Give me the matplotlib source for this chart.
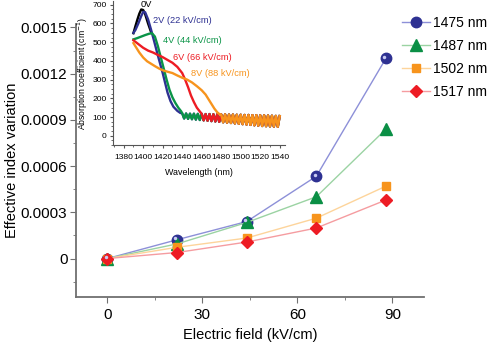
import numpy as np
import matplotlib
matplotlib.use("Agg")
import matplotlib.pyplot as plt
from matplotlib.ticker import MultipleLocator, FuncFormatter
from matplotlib.transforms import ScaledTranslation

plt.rcParams['font.family'] = ['Liberation Sans', 'DejaVu Sans']

# -------------------------------
# main plot data (effective index vs field)
# -------------------------------
field = [0, 22, 44, 66, 88]
labels = ['1475 nm', '1487 nm', '1502 nm', '1517 nm']
dn_1475 = [0, 0.000122, 0.00024, 0.000534, 0.00130]
dn_1487 = [0, 0.000095, 0.000234, 0.000401, 0.000840]
dn_1502 = [0, 0.000073, 0.000133, 0.000262, 0.000470]
dn_1517 = [0, 0.000039, 0.000107, 0.000198, 0.000380]

# -------------------------------
# inset data (absorption spectra)
# -------------------------------
wl_0v = [1390, 1392, 1394, 1396, 1398, 1400, 1402, 1405, 1408]
ab_0v = [548, 585, 620, 652, 675, 672, 650, 600, 555]

wl_2v = [1390, 1392, 1395, 1398, 1400, 1402, 1405, 1408, 1411, 1415, 1420,
         1425, 1428, 1431, 1435, 1438]
ab_2v = [550, 565, 600, 640, 662, 660, 622, 568, 510, 430, 335,
         230, 185, 155, 133, 122]

wl_4v = [1390, 1394, 1398, 1402, 1406, 1409, 1412, 1415, 1418, 1421, 1424,
         1427, 1430, 1433, 1436, 1439]
ab_4v = [515, 522, 530, 538, 545, 548, 530, 480, 420, 360, 300,
         245, 205, 175, 150, 130]

wl_6v = [1390, 1395, 1400, 1405, 1410, 1415, 1420, 1425, 1430, 1435, 1440,
         1443, 1446, 1449, 1452, 1455, 1458]
ab_6v = [510, 490, 470, 455, 445, 432, 420, 405, 390, 368, 335,
         300, 260, 215, 180, 150, 130]

wl_8v = [1390, 1393, 1396, 1400, 1404, 1408, 1412, 1416, 1420, 1425, 1430,
         1435, 1440, 1445, 1450, 1455, 1460, 1464, 1467, 1470, 1473, 1476, 1479]
ab_8v = [495, 470, 445, 418, 398, 385, 372, 360, 350, 342, 335,
         322, 310, 300, 285, 265, 243, 220, 195, 170, 145, 125, 112]

# shared fringe tail
tail_wl = list(range(1440, 1541, 2))
tail_ab = [120, 92, 119, 90, 118, 88, 118, 86, 117, 84, 117, 82, 116, 80,
           116, 78, 115, 76, 115, 74, 114, 72, 114, 70, 113, 68, 113, 66,
           112, 64, 112, 62, 111, 60, 111, 58, 110, 56, 110, 54, 109, 52,
           109, 51, 108, 50, 107, 49, 106, 48, 105]

fig = plt.figure(figsize=(4.89, 3.43), dpi=100)
ax = fig.add_axes([0.155, 0.134, 0.712, 0.795])

spine_col = '#707070'
series = [
    (dn_1475, 'o', '#2e3192', '#8d90d8', 7.5),
    (dn_1487, '^', '#0a8f45', '#9bd3a3', 8),
    (dn_1502, 's', '#f7941d', '#fdd49b', 6),
    (dn_1517, 'D', '#ed1c24', '#f59ca0', 6.5),
]
for (vals, mk, mc, lc, ms), lab in zip(series, labels):
    ax.plot(field, vals, color=lc, lw=1.0, marker=mk, ms=ms,
            mfc=mc, mec=mc, label=lab, zorder=3)

# little highlight on the blue spheres
hl = ScaledTranslation(-1.2 / 72, 1.2 / 72, fig.dpi_scale_trans)
ax.plot(field, dn_1475, ls='none', marker='o', ms=2.5, mfc='#c9cbf2',
        mec='none', transform=ax.transData + hl, zorder=4)

ax.set_xlim(-10, 100)
ax.set_ylim(-0.00025, 0.00152)
ax.xaxis.set_major_locator(MultipleLocator(30))
ax.xaxis.set_minor_locator(MultipleLocator(15))
ax.yaxis.set_major_locator(MultipleLocator(0.0003))
ax.yaxis.set_minor_locator(MultipleLocator(0.00015))
ax.yaxis.set_major_formatter(FuncFormatter(lambda v, p: '0' if abs(v) < 1e-9 else f'{v:.4f}'))
for s in ['top', 'right']:
    ax.spines[s].set_visible(False)
for s in ['left', 'bottom']:
    ax.spines[s].set_color(spine_col)
    ax.spines[s].set_linewidth(1.3)
ax.tick_params(which='both', direction='out', color=spine_col, labelsize=11)
ax.tick_params(which='major', length=4, pad=2)
ax.tick_params(which='minor', length=2.5)
ax.tick_params(axis='x', which='major', pad=4)
ax.set_xlabel('Electric field (kV/cm)', fontsize=10.5, labelpad=4)
ax.set_ylabel('Effective index variation', fontsize=10.5, labelpad=1)

fig.legend(loc='upper left', bbox_to_anchor=(402 / 489, 1 - 16 / 343),
           frameon=False, fontsize=10, handlelength=2.0, labelspacing=0.65,
           handletextpad=0.25, borderpad=0, borderaxespad=0)

# -------------------------------
# inset
# -------------------------------
ins = fig.add_axes([0.231, 0.577, 0.351, 0.42])
ins.patch.set_alpha(0)

def with_tail(wl, ab):
    w = list(wl) + [x for x in tail_wl if x > wl[-1]]
    a = list(ab) + [y for x, y in zip(tail_wl, tail_ab) if x > wl[-1]]
    return w, a

ins.plot(wl_0v, ab_0v, color='black', lw=1.7)
for wl, ab, c in [(wl_2v, ab_2v, '#2e3192'), (wl_4v, ab_4v, '#0a9447'),
                  (wl_6v, ab_6v, '#ed1c24'), (wl_8v, ab_8v, '#f7941d')]:
    w, a = with_tail(wl, ab)
    ins.plot(w, a, color=c, lw=1.7)

fs_in = 6.7
ins.text(1397, 700, '0V', fontsize=fs_in, color='black', va='center')
ins.text(1410, 618, '2V (22 kV/cm)', fontsize=fs_in, color='#2e3192', va='center')
ins.text(1420, 510, '4V (44 kV/cm)', fontsize=fs_in, color='#0a9447', va='center')
ins.text(1431, 420, '6V (66 kV/cm)', fontsize=fs_in, color='#ed1c24', va='center')
ins.text(1449, 333, '8V (88 kV/cm)', fontsize=fs_in, color='#f7941d', va='center')

ins.set_xlim(1369, 1545)
ins.set_ylim(-50, 720)
ins.xaxis.set_major_locator(MultipleLocator(20))
ins.xaxis.set_minor_locator(MultipleLocator(10))
ins.yaxis.set_major_locator(MultipleLocator(100))
ins.yaxis.set_minor_locator(MultipleLocator(25))
for s in ['top', 'right']:
    ins.spines[s].set_visible(False)
for s in ['left', 'bottom']:
    ins.spines[s].set_color('#555555')
    ins.spines[s].set_linewidth(0.8)
ins.tick_params(which='both', direction='out', color='#555555', labelsize=6.1)
ins.tick_params(which='major', length=2.5, pad=2)
ins.tick_params(which='minor', length=1.5)
ins.tick_params(axis='x', which='major', pad=4)
ins.set_xlabel('Wavelength (nm)', fontsize=6.4, labelpad=5)
ins.set_ylabel('Absorption coefficient (cm$^{-1}$)', fontsize=6.2, labelpad=2)

fig.savefig('out.png', dpi=100)
